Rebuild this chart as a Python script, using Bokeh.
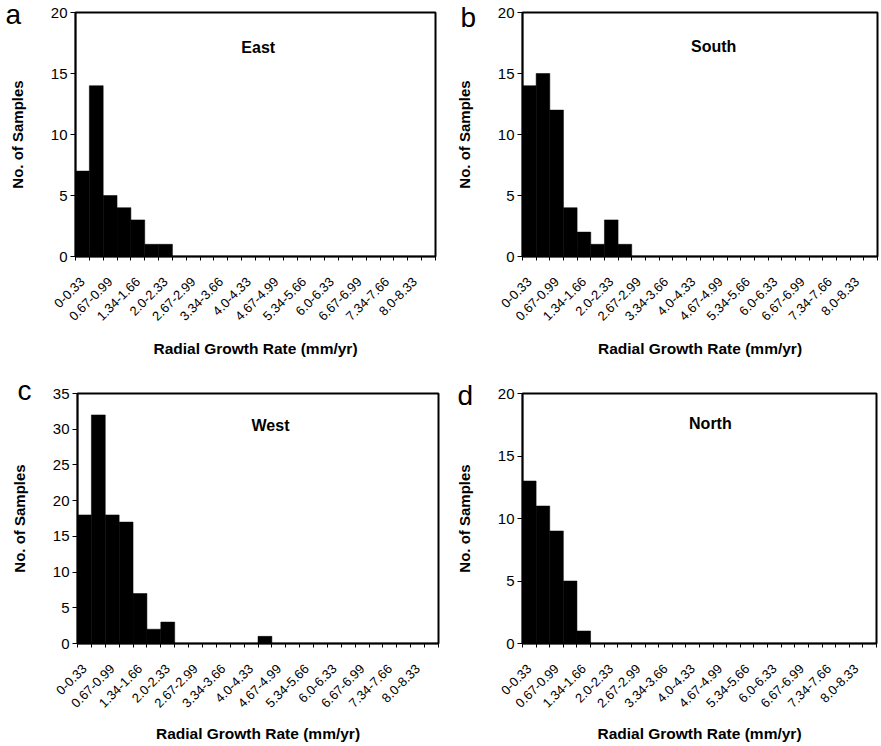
import math
from bokeh.plotting import figure
from bokeh.models import FixedTicker, Label, Range1d
from bokeh.layouts import column, row
from bokeh.embed import file_html
from bokeh.resources import INLINE

categories = ["0-0.33", "0.34-0.66", "0.67-0.99", "1.0-1.33", "1.34-1.66", "1.67-1.99",
              "2.0-2.33", "2.34-2.66", "2.67-2.99", "3.0-3.33", "3.34-3.66", "3.67-3.99",
              "4.0-4.33", "4.34-4.66", "4.67-4.99", "5.0-5.33", "5.34-5.66", "5.67-5.99",
              "6.0-6.33", "6.34-6.66", "6.67-6.99", "7.0-7.33", "7.34-7.66", "7.67-7.99",
              "8.0-8.33", "8.34-8.66"]

east = [7, 14, 5, 4, 3, 1, 1, 0, 0, 0, 0, 0, 0, 0, 0, 0, 0, 0, 0, 0, 0, 0, 0, 0, 0, 0]
south = [14, 15, 12, 4, 2, 1, 3, 1, 0, 0, 0, 0, 0, 0, 0, 0, 0, 0, 0, 0, 0, 0, 0, 0, 0, 0]
west = [18, 32, 18, 17, 7, 2, 3, 0, 0, 0, 0, 0, 0, 1, 0, 0, 0, 0, 0, 0, 0, 0, 0, 0, 0, 0]
north = [13, 11, 9, 5, 1, 0, 0, 0, 0, 0, 0, 0, 0, 0, 0, 0, 0, 0, 0, 0, 0, 0, 0, 0, 0, 0]

panel_letters = ["a", "b", "c", "d"]
panel_titles = ["East", "South", "West", "North"]
y_max = [20, 20, 35, 20]
y_ticks = [[0, 5, 10, 15, 20], [0, 5, 10, 15, 20],
           [0, 5, 10, 15, 20, 25, 30, 35], [0, 5, 10, 15, 20]]
x_title = "Radial Growth Rate (mm/yr)"
y_title = "No. of Samples"

FONT = "Liberation Sans"
N = len(categories)


def make_panel(values, letter, title, ymax, yticks, width, height, bl, br, bt, bb,
               letter_shift, title_pos, xlabel_standoff):
    p = figure(width=width, height=height, output_backend="svg", toolbar_location=None,
               x_range=Range1d(-0.5, N - 0.5), y_range=Range1d(0, ymax),
               min_border_left=bl, min_border_right=br, min_border_top=bt,
               min_border_bottom=bb, background_fill_color="white",
               border_fill_color="white", title=letter)
    p.xgrid.visible = False
    p.ygrid.visible = False
    p.outline_line_color = "black"
    p.outline_line_width = 2

    # panel letter, drawn in the (unclipped) title panel
    p.title.text_font = FONT
    p.title.text_font_size = "28px"
    p.title.text_font_style = "normal"
    p.title.text_color = "black"
    p.title.align = "left"
    p.title.vertical_align = "bottom"
    p.title.offset = letter_shift[0]
    p.title.standoff = letter_shift[1]

    p.vbar(x=list(range(N)), top=values, width=1.0, bottom=0,
           fill_color="black", line_color="black", line_width=0.5)

    # labels at the centres of every second category, tick marks at every boundary
    even = list(range(0, N, 2))
    xa = p.xaxis[0]
    xa.ticker = FixedTicker(ticks=even, minor_ticks=[i - 0.5 for i in range(N + 1)])
    xa.major_label_overrides = {i: categories[i] for i in even}
    xa.major_label_orientation = math.pi / 4
    xa.major_tick_out = 0
    xa.major_tick_in = 0
    xa.major_tick_line_color = None
    xa.minor_tick_out = 4
    xa.minor_tick_in = 0
    xa.minor_tick_line_color = "black"
    xa.minor_tick_line_width = 1
    xa.axis_line_color = "black"
    xa.axis_line_width = 1.5
    xa.major_label_text_font = FONT
    xa.major_label_text_font_size = "13px"
    xa.major_label_text_color = "black"
    xa.major_label_standoff = 19
    xa.axis_label = x_title
    xa.axis_label_text_font = FONT
    xa.axis_label_text_font_size = "15.5px"
    xa.axis_label_text_font_style = "bold"
    xa.axis_label_text_color = "black"
    xa.axis_label_standoff = xlabel_standoff

    ya = p.yaxis[0]
    ya.ticker = FixedTicker(ticks=yticks, minor_ticks=[])
    ya.major_tick_out = 5
    ya.major_tick_in = 0
    ya.major_tick_line_color = "black"
    ya.axis_line_color = "black"
    ya.axis_line_width = 1.5
    ya.major_label_text_font = FONT
    ya.major_label_text_font_size = "15px"
    ya.major_label_text_color = "black"
    ya.major_label_standoff = 3
    ya.axis_label = y_title
    ya.axis_label_text_font = FONT
    ya.axis_label_text_font_size = "15px"
    ya.axis_label_text_font_style = "bold"
    ya.axis_label_text_color = "black"
    ya.axis_label_standoff = 22

    p.add_layout(Label(x=title_pos[0], y=title_pos[1], text=title, text_font=FONT,
                       text_font_size="16px", text_font_style="bold", text_color="black",
                       text_baseline="middle", text_align="center"))
    return p


p1 = make_panel(east, panel_letters[0], panel_titles[0], y_max[0], y_ticks[0],
                440, 370, 75, 5, 12, 108, (-70, -35), (12.7, 17.1), 12)
p2 = make_panel(south, panel_letters[1], panel_titles[1], y_max[1], y_ticks[1],
                441, 370, 82, 4, 10, 114, (-62, -41), (13.5, 17.2), 12)
p3 = make_panel(west, panel_letters[2], panel_titles[2], y_max[2], y_ticks[2],
                440, 376, 77, 2, 23, 103, (-60, -25), (13.4, 30.5), 10)
p4 = make_panel(north, panel_letters[3], panel_titles[3], y_max[3], y_ticks[3],
                441, 376, 82, 5, 23, 100, (-65, -35), (13.3, 17.6), 10)

layout = column(row(p1, p2), row(p3, p4))

open("out.html", "w").write(file_html(layout, INLINE))
